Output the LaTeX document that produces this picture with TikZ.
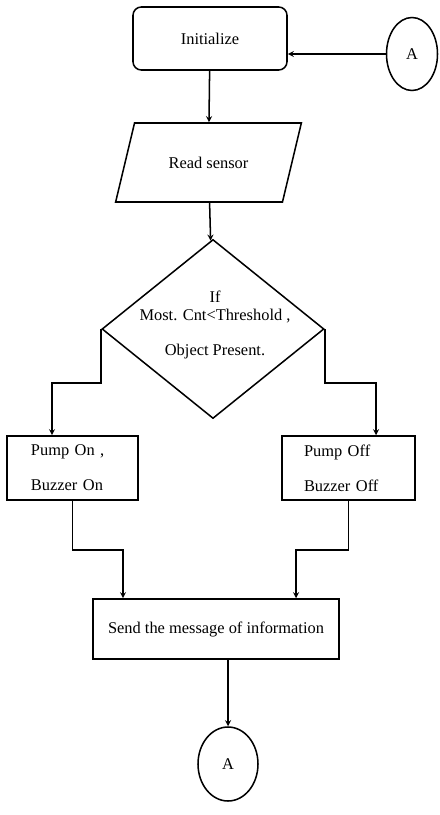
\documentclass[tikz,border=0pt]{standalone}
\usepackage{fontspec}
\setmainfont{Liberation Serif}
\usetikzlibrary{shapes.geometric}
\begin{document}
\begin{tikzpicture}[>=stealth, x=0.03cm, y=-0.03cm, line width=1.3pt,
  font=\fontsize{14}{16}\selectfont]
\useasboundingbox (0,0) rectangle (439,815);
\node[draw, rounded corners=0.25cm, minimum width=4.62cm, minimum height=1.89cm] (init) at (210,38.5) {Initialize};
\node[draw, ellipse, minimum width=1.53cm, minimum height=2.19cm] (a1) at (412,54) {A};
\node[draw, trapezium, trapezium left angle=60, trapezium right angle=120, trapezium stretches=true, minimum width=5.61cm, minimum height=2.37cm] (read) at (208.5,162.5) {Read sensor};
\node[draw, diamond, minimum width=6.66cm, minimum height=5.37cm] (cond) at (213,329) {};
\node[align=center] (condtext) at (215,325) {If\\Most. Cnt<Threshold ,\\[14pt]Object Present.};
\node[draw, minimum width=3.93cm, minimum height=1.92cm, text width=2.49cm, inner xsep=0.72cm, align=left] (on) at (72.5,468) {Pump On ,\\[14pt]Buzzer On};
\node[draw, minimum width=3.99cm, minimum height=1.92cm, text width=2.67cm, inner xsep=0.66cm, align=left] (off) at (348.5,468) {Pump Off\\[14pt]Buzzer Off};
\node[draw, minimum width=7.38cm, minimum height=1.8cm] (send) at (216,629) {Send the message of information};
\node[draw, ellipse, minimum width=1.8cm, minimum height=2.22cm] (a2) at (228,764) {A};

\coordinate (l1) at (52,383);
\coordinate (r1) at (376,383);
\coordinate (l2) at (123,550);
\coordinate (r2) at (296,550);

\draw[->] (a1.west) -- (a1.west -| init.east);
\draw[->] (init) -- (read);
\draw[->] (read) -- (cond);
\draw[->] (cond.west) |- (l1) -- (l1 |- on.north);
\draw[->] (cond.east) |- (r1) -- (r1 |- off.north);
\draw[->] (on) |- (l2) -- (l2 |- send.north);
\draw[->] (off) |- (r2) -- (r2 |- send.north);
\draw[->] (a2.north |- send.south) -- (a2);
\end{tikzpicture}
\end{document}
